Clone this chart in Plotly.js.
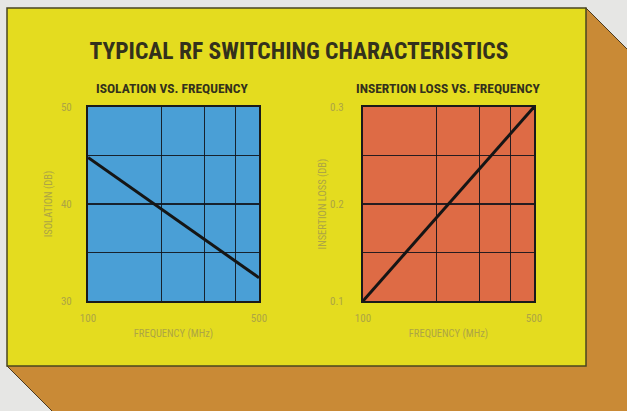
<!DOCTYPE html>
<html>
<head>
<meta charset="utf-8">
<script src="https://cdn.plot.ly/plotly-3.0.1.min.js"></script>
<style>html,body{margin:0;padding:0;background:#e6e6e4;}#chart{width:627px;height:411px;}</style>
</head>
<body>
<div id="chart"></div>
<script>
// ---- Data ----
const frequencyMHz = [100, 500];
const isolationDB = [44.8, 32.4];
const insertionLossDB = [0.1, 0.3];
const freqTickVals = [100, 200, 300, 400, 500];
const freqTickText = ['100', '', '', '', '500'];
const isoTickVals = [30, 35, 40, 45, 50];
const isoTickText = ['30', '', '40', '', '50'];
const lossTickVals = [0.1, 0.15, 0.2, 0.25, 0.3];
const lossTickText = ['0.1', '', '0.2', '', '0.3'];

const W = 627, H = 411;
const px = x => x / W;
const py = y => 1 - y / H;

const FONT = '"Liberation Sans Narrow", "Roboto Condensed", "Arial Narrow", sans-serif';
const tickColor = '#ada544';
const darkText = '#33311c';
const gridColor = 'rgba(18,20,28,0.9)';

const traces = [
  {x: frequencyMHz, y: isolationDB, xaxis: 'x', yaxis: 'y', mode: 'lines',
   line: {color: '#151515', width: 3}, cliponaxis: false, hoverinfo: 'skip'},
  {x: frequencyMHz, y: insertionLossDB, xaxis: 'x2', yaxis: 'y2', mode: 'lines',
   line: {color: '#151515', width: 3}, cliponaxis: false, hoverinfo: 'skip'}
];

function xAxis(domain, anchor) {
  return {
    domain: domain, anchor: anchor, type: 'log',
    range: [Math.log10(100), Math.log10(500)],
    tickvals: freqTickVals, ticktext: freqTickText,
    ticks: 'outside', ticklen: 6, tickcolor: 'rgba(0,0,0,0)',
    tickfont: {family: FONT, size: 11, color: tickColor},
    showgrid: true, gridcolor: gridColor, gridwidth: 1.5,
    showline: true, mirror: true, linecolor: '#1a1a1a', linewidth: 2,
    zeroline: false, fixedrange: true,
    title: {text: 'FREQUENCY (MHz)', standoff: 5, font: {family: FONT, size: 10.5, color: tickColor}}
  };
}
function yAxis(domain, anchor, range, tv, tt, title, tlen, standoff) {
  return {
    domain: domain, anchor: anchor, range: range,
    tickvals: tv, ticktext: tt,
    ticks: 'outside', ticklen: tlen, tickcolor: 'rgba(0,0,0,0)',
    tickfont: {family: FONT, size: 11, color: tickColor},
    showgrid: true, gridcolor: gridColor, gridwidth: 1.5,
    showline: true, mirror: true, linecolor: '#1a1a1a', linewidth: 2,
    zeroline: false, fixedrange: true,
    title: {text: title, standoff: standoff, font: {family: FONT, size: 10.5, color: tickColor}}
  };
}

const yDom = [py(301), py(107)];

const layout = {
  width: W, height: H,
  margin: {l: 0, r: 0, t: 0, b: 0},
  paper_bgcolor: '#e6e6e4',
  plot_bgcolor: 'rgba(0,0,0,0)',
  showlegend: false,
  title: {text: 'TYPICAL RF SWITCHING CHARACTERISTICS', x: px(299), y: py(51),
          xanchor: 'center', yanchor: 'middle', xref: 'paper', yref: 'paper',
          font: {family: FONT, size: 23.5, color: darkText, weight: 'bold'}},
  xaxis: xAxis([px(88), px(259)], 'y'),
  yaxis: yAxis(yDom, 'x', [30, 50], isoTickVals, isoTickText, 'ISOLATION (DB)', 12, 6),
  xaxis2: xAxis([px(363), px(534)], 'y2'),
  yaxis2: yAxis(yDom, 'x2', [0.1, 0.3], lossTickVals, lossTickText, 'INSERTION LOSS (DB)', 15, 1),
  annotations: [
    {text: '<b>ISOLATION VS. FREQUENCY</b>', xref: 'paper', yref: 'paper', x: px(172), y: py(88),
     xanchor: 'center', yanchor: 'middle', showarrow: false, font: {family: FONT, size: 13.5, color: darkText}},
    {text: '<b>INSERTION LOSS VS. FREQUENCY</b>', xref: 'paper', yref: 'paper', x: px(448), y: py(88),
     xanchor: 'center', yanchor: 'middle', showarrow: false, font: {family: FONT, size: 13.5, color: darkText}}
  ],
  shapes: [
    // extruded orange box behind the panel
    {type: 'path', xref: 'paper', yref: 'paper', layer: 'below',
     path: `M ${px(586)},${py(8)} L ${px(700)},${py(122)} L ${px(700)},${py(480)} L ${px(121)},${py(480)} L ${px(7)},${py(366)} Z`,
     fillcolor: '#c98a36', line: {color: '#4a3a20', width: 1}},
    // yellow panel
    {type: 'rect', xref: 'paper', yref: 'paper', layer: 'below',
     x0: px(7), x1: px(586), y0: py(366), y1: py(8),
     fillcolor: '#e4dc1f', line: {color: '#4a4620', width: 1.5}},
    // plot backgrounds
    {type: 'rect', xref: 'x domain', yref: 'y domain', layer: 'below',
     x0: 0, x1: 1, y0: 0, y1: 1, fillcolor: '#4a9fd6', line: {width: 0}},
    {type: 'rect', xref: 'x2 domain', yref: 'y2 domain', layer: 'below',
     x0: 0, x1: 1, y0: 0, y1: 1, fillcolor: '#de6b45', line: {width: 0}}
  ]
};

Plotly.newPlot('chart', traces, layout, {displayModeBar: false, staticPlot: true});
</script>
</body>
</html>
